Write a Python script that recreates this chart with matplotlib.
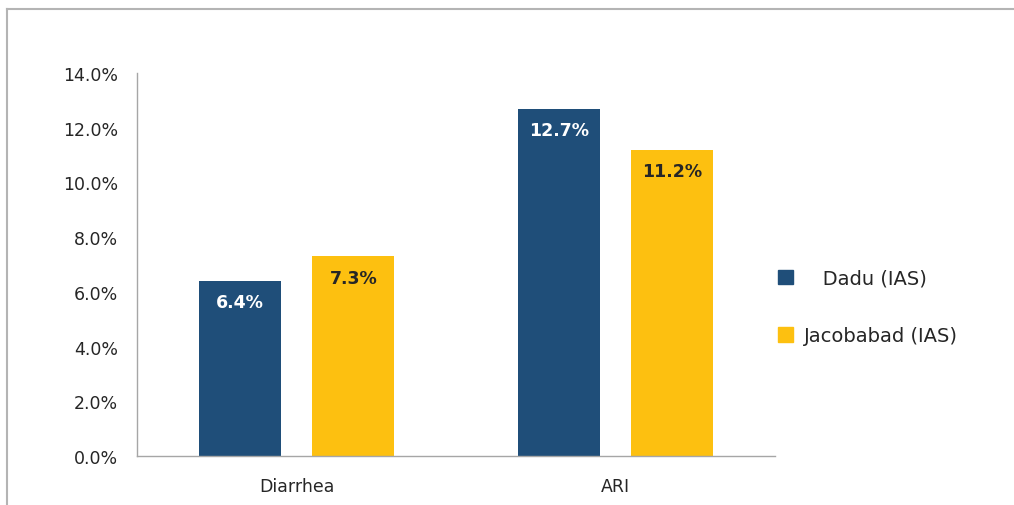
import matplotlib
matplotlib.use("Agg")
import matplotlib.pyplot as plt
from matplotlib.patches import Patch
from matplotlib.lines import Line2D
import numpy as np

categories = ["Diarrhea", "ARI"]
dadu = [6.4, 12.7]
jacobabad = [7.3, 11.2]
series_names = ["Dadu (IAS)", "Jacobabad (IAS)"]
yticks = [0, 2, 4, 6, 8, 10, 12, 14]

navy = "#1F4E79"
gold = "#FDC010"
grey = "#A6A6A6"
txt = "#262626"

plt.rcParams["font.family"] = ["DejaVu Sans"]

fig = plt.figure(figsize=(10.14, 5.06), dpi=100)
ax = fig.add_axes([137 / 1014, 1 - 457 / 506, 638 / 1014, 383 / 506])

x = np.arange(len(categories))
w = 0.257
b1 = ax.bar(x - 0.178, dadu, w, color=navy)
b2 = ax.bar(x + 0.178, jacobabad, w, color=gold)

for bar, v in zip(b1, dadu):
    ax.text(bar.get_x() + bar.get_width() / 2, v - 0.78, f"{v:.1f}%",
            ha="center", va="center", color="white", fontsize=12.5, fontweight="bold")
for bar, v in zip(b2, jacobabad):
    ax.text(bar.get_x() + bar.get_width() / 2, v - 0.78, f"{v:.1f}%",
            ha="center", va="center", color=txt, fontsize=12.5, fontweight="bold")

ax.set_xlim(-0.5, 1.5)
ax.set_ylim(0, 14)
ax.set_yticks(yticks)
ax.set_yticklabels([f"{t:.1f}%" for t in yticks])
ax.set_xticks(x)
ax.set_xticklabels(categories)
ax.tick_params(axis="both", length=0, labelsize=12.5, colors=txt)
ax.tick_params(axis="y", pad=13.5)
ax.tick_params(axis="x", pad=15)
for s in ["top", "right"]:
    ax.spines[s].set_visible(False)
for s in ["left", "bottom"]:
    ax.spines[s].set_color(grey)
    ax.spines[s].set_linewidth(1)

handles = [Patch(color=navy), Patch(color=gold)]
fig.legend(handles, ["   " + series_names[0], series_names[1]],
           loc="center left", bbox_to_anchor=(778 / 1014, 1 - 308 / 506),
           frameon=False, fontsize=14, handlelength=0.77, handleheight=0.77,
           handletextpad=0.56, labelspacing=2.0, borderpad=0, borderaxespad=0,
           labelcolor=txt)

# outer frame (only top and left edges are inside the image)
fig.add_artist(Line2D([7 / 1014, 7 / 1014], [0, 1 - 10 / 506], color="#B4B4B4",
                      linewidth=1.5, transform=fig.transFigure))
fig.add_artist(Line2D([7 / 1014, 1], [1 - 10 / 506, 1 - 10 / 506], color="#B4B4B4",
                      linewidth=1.5, transform=fig.transFigure))

fig.savefig("out.png", dpi=100)
